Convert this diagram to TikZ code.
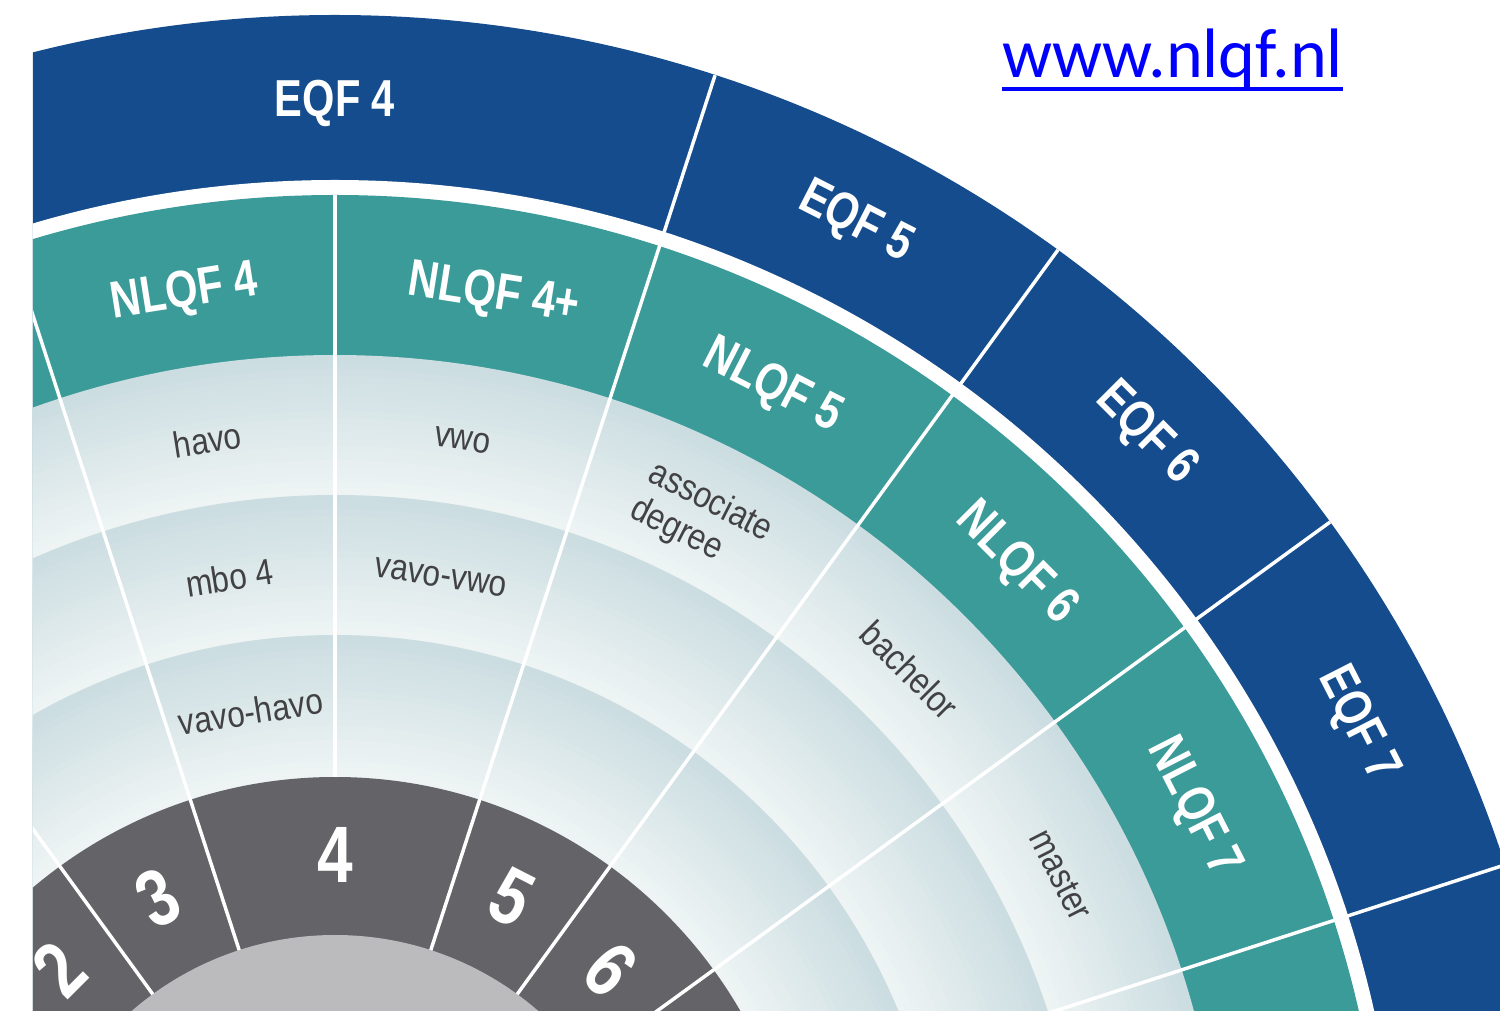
\documentclass[tikz,border=0pt]{standalone}
\usepackage{fontspec}
\setmainfont{Liberation Sans}
\newfontfamily\condfont[FakeStretch=0.8]{Liberation Sans}
\newfontfamily\schoolfont[FakeStretch=0.86]{Liberation Sans}
\newfontfamily\urlfont{Carlito}

\definecolor{eqfblue}{RGB}{21,76,142}
\definecolor{nlqfteal}{RGB}{59,155,153}
\definecolor{ringdark}{RGB}{203,221,225}
\definecolor{ringlight}{RGB}{240,245,245}
\definecolor{levelgrey}{RGB}{100,100,104}
\definecolor{hubgrey}{RGB}{187,187,190}
\definecolor{labelgrey}{RGB}{66,66,68}
\definecolor{urlblue}{RGB}{0,0,255}

\tikzset{
  divider/.style={white, line width=2.6pt},
  framelabel/.style={text=white, inner sep=0pt, font=\condfont\bfseries\fontsize{39}{44}\selectfont},
  levellabel/.style={text=white, inner sep=0pt, font=\condfont\bfseries\fontsize{60}{66}\selectfont},
  schoollabel/.style={text=labelgrey, inner sep=0pt, align=left, font=\schoolfont\fontsize{27.5}{30}\selectfont},
  urltext/.style={text=urlblue, inner sep=0pt, font=\urlfont\fontsize{52.5}{58}\selectfont}
}

\begin{document}
\begin{tikzpicture}[x=0.75pt,y=0.75pt]
\useasboundingbox (-335,234) rectangle (1165,1245);
\fill[white] (-335,234) rectangle (1165,1245);

\begin{scope}
\clip (-302,234) rectangle (1165,1245);

%Shape: EQF ring
\fill[eqfblue] (0,0) circle (1230);
\fill[white] (0,0) circle (1065);
%Shape: NLQF ring
\fill[nlqfteal] (0,0) circle (1050);
%Shape: school rings, dark outside and light inside
\foreach \ro in {890,750,610}{
  \foreach \j in {0,...,19}{
    \pgfmathsetmacro{\rr}{\ro-7*\j}
    \pgfmathtruncatemacro{\pc}{5*\j}
    \fill[ringlight!\pc!ringdark] (0,0) circle (\rr);
  }
}
%Shape: level ring and hub
\fill[levelgrey] (0,0) circle (468);
\fill[hubgrey] (0,0) circle (310);

%Straight Lines
\foreach \a in {18,36,54,72,108,126,144}
  \draw[divider] (\a:310) -- (\a:1230);
\draw[divider] (90:468) -- (90:1050);

%EQF levels
\node[framelabel] (eqf4) at (90:1142) {EQF 4};
\node[framelabel, rotate=-27] (eqf5) at (63:1147) {EQF 5};
\node[framelabel, rotate=-45] (eqf6) at (45:1147) {EQF 6};
\node[framelabel, rotate=-63] (eqf7) at (27:1147) {EQF 7};

%NLQF levels
\node[framelabel, rotate=9] (nlqf4) at (99:963) {NLQF 4};
\node[framelabel, rotate=-9] (nlqf4plus) at (80.5:963) {NLQF 4+};
\node[framelabel, rotate=-27] (nlqf5) at (63:963) {NLQF 5};
\node[framelabel, rotate=-45] (nlqf6) at (45:963) {NLQF 6};
\node[framelabel, rotate=-63] (nlqf7) at (27:963) {NLQF 7};

%qualifications
\node[schoollabel, rotate=9] (havo) at (99:815) {havo};
\node[schoollabel, rotate=-9] (vwo) at (81:815) {vwo};
\node[schoollabel, rotate=-27] (assoc) at (63.2:812) {associate\\degree};
\node[schoollabel, rotate=-45] (bachelor) at (45:813) {bachelor};
\node[schoollabel, rotate=-63] (master) at (27:815) {master};
\node[schoollabel, rotate=9] (mbo4) at (99:676) {mbo 4};
\node[schoollabel, rotate=-9] (vavovwo) at (81:676) {vavo-vwo};
\node[schoollabel, rotate=9] (vavohavo) at (99:540) {vavo-havo};

%level numbers
\node[levellabel, rotate=45] (lvl2) at (135:390) {2};
\node[levellabel, rotate=27] (lvl3) at (117:390) {3};
\node[levellabel] (lvl4) at (90:390) {4};
\node[levellabel, rotate=-27] (lvl5) at (63:390) {5};
\node[levellabel, rotate=-45] (lvl6) at (45:390) {6};
\end{scope}

%link
\node[urltext, anchor=base west] (url) at (667,1167) {www.nlqf.nl};
\draw[urlblue, line width=3pt] ([yshift=-8.25pt]url.base west) -- ([yshift=-8.25pt]url.base east);

\end{tikzpicture}
\end{document}
